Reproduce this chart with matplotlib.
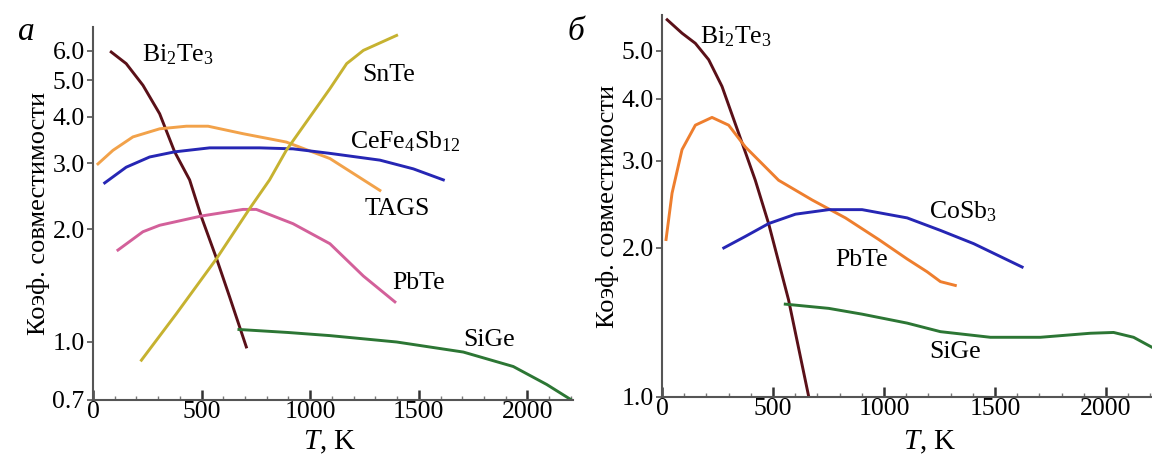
import matplotlib
matplotlib.use('Agg')
import matplotlib.pyplot as plt
from matplotlib.ticker import FixedLocator, FixedFormatter, MultipleLocator, NullLocator

plt.rcParams['font.family'] = ['Liberation Serif', 'DejaVu Serif']
plt.rcParams['mathtext.fontset'] = 'custom'
plt.rcParams['mathtext.rm'] = 'Liberation Serif'
plt.rcParams['mathtext.it'] = 'Liberation Serif:italic'

# ---- panel a data (T in K, compatibility factor) ----
bi_a_T = [84, 153, 230, 307, 376, 445, 499, 569, 629, 706]
bi_a_s = [5.95, 5.54, 4.85, 4.07, 3.22, 2.71, 2.16, 1.67, 1.32, 0.97]

tags_T = [23, 92, 184, 307, 430, 530, 691, 890, 1091, 1321]
tags_s = [2.99, 3.25, 3.53, 3.71, 3.77, 3.77, 3.60, 3.42, 3.09, 2.54]

cefe_T = [54, 153, 261, 376, 537, 767, 921, 1091, 1321, 1475, 1613]
cefe_s = [2.66, 2.93, 3.12, 3.22, 3.30, 3.30, 3.28, 3.19, 3.06, 2.90, 2.71]

pbte_a_T = [115, 230, 307, 499, 691, 752, 921, 1091, 1245, 1390]
pbte_a_s = [1.76, 1.97, 2.05, 2.17, 2.26, 2.26, 2.07, 1.83, 1.50, 1.28]

snte_T = [223, 384, 569, 721, 813, 890, 1000, 1091, 1168, 1245, 1398]
snte_s = [0.894, 1.19, 1.67, 2.27, 2.71, 3.25, 4.0, 4.75, 5.54, 6.01, 6.59]

sige_a_T = [672, 900, 1091, 1398, 1705, 1935, 2089, 2203]
sige_a_s = [1.08, 1.06, 1.04, 1.00, 0.94, 0.86, 0.77, 0.70]

# ---- panel b data ----
bi_b_T = [23, 90, 150, 210, 270, 345, 420, 480, 570, 661]
bi_b_s = [5.78, 5.43, 5.18, 4.80, 4.24, 3.41, 2.74, 2.24, 1.57, 1.0]

pbte_b_T = [18, 45, 90, 150, 225, 300, 375, 525, 676, 826, 976, 1104, 1194, 1254, 1321]
pbte_b_s = [2.08, 2.58, 3.16, 3.54, 3.67, 3.54, 3.20, 2.74, 2.50, 2.30, 2.08, 1.90, 1.79, 1.71, 1.68]

cosb_T = [278, 375, 480, 601, 751, 901, 1104, 1254, 1404, 1622]
cosb_s = [2.0, 2.11, 2.24, 2.34, 2.39, 2.39, 2.30, 2.17, 2.04, 1.83]

sige_b_T = [555, 751, 901, 1104, 1254, 1479, 1704, 1929, 2034, 2124, 2207]
sige_b_s = [1.54, 1.51, 1.47, 1.41, 1.355, 1.32, 1.32, 1.345, 1.35, 1.32, 1.26]

yticks_a = [0.7, 1.0, 2.0, 3.0, 4.0, 5.0, 6.0]
yticks_b = [1.0, 2.0, 3.0, 4.0, 5.0]
xticks = [0, 500, 1000, 1500, 2000]

c_bi = '#5a1018'
c_tags = '#f2a24a'
c_blue = '#2626b4'
c_pink = '#d3609a'
c_snte = '#c6b230'
c_green = '#2c7634'
c_orange = '#ee7e2e'
lw = 2.1

fig = plt.figure(figsize=(11.52, 4.55), dpi=100)
ax1 = fig.add_axes([0.0807, 0.1209, 0.4167, 0.8198])
ax2 = fig.add_axes([0.5747, 0.1275, 0.4253, 0.8396])

ax1.plot(bi_a_T, bi_a_s, color=c_bi, lw=lw)
ax1.plot(tags_T, tags_s, color=c_tags, lw=lw)
ax1.plot(cefe_T, cefe_s, color=c_blue, lw=lw)
ax1.plot(pbte_a_T, pbte_a_s, color=c_pink, lw=lw)
ax1.plot(snte_T, snte_s, color=c_snte, lw=lw)
ax1.plot(sige_a_T, sige_a_s, color=c_green, lw=lw)

ax2.plot(bi_b_T, bi_b_s, color=c_bi, lw=lw)
ax2.plot(pbte_b_T, pbte_b_s, color=c_orange, lw=lw)
ax2.plot(cosb_T, cosb_s, color=c_blue, lw=lw)
ax2.plot(sige_b_T, sige_b_s, color=c_green, lw=lw)

for ax, yt, ylim in [(ax1, yticks_a, (0.7, 6.94)), (ax2, yticks_b, (1.0, 5.91))]:
    ax.set_yscale('log')
    ax.set_ylim(*ylim)
    ax.set_xlim(0, 2210)
    ax.yaxis.set_major_locator(FixedLocator(yt))
    ax.yaxis.set_major_formatter(FixedFormatter(['%.1f' % v for v in yt]))
    ax.yaxis.set_minor_locator(NullLocator())
    ax.xaxis.set_major_locator(FixedLocator(xticks))
    ax.xaxis.set_minor_locator(MultipleLocator(100))
    for s in ['top', 'right']:
        ax.spines[s].set_visible(False)
    for s in ['left', 'bottom']:
        ax.spines[s].set_color('#555555')
        ax.spines[s].set_linewidth(1.5)
    ax.tick_params(axis='x', which='major', direction='in', length=7, width=1.8,
                   labelsize=18.5, pad=1, color='#333333')
    ax.tick_params(axis='x', which='minor', direction='in', length=3, width=1,
                   color='#777777')
    ax.tick_params(axis='y', which='major', direction='out', length=4, width=1.2,
                   labelsize=18.5, pad=2, color='#555555')
    ax.set_ylabel('Коэф. совместимости', fontsize=19, labelpad=2)
    ax.set_xlabel('$T$, K', fontsize=21)

ax2.set_xlim(0, 2207)
ax1.xaxis.set_label_coords(0.494, -0.078)
ax2.xaxis.set_label_coords(0.547, -0.084)

# panel labels
fig.text(18 / 1152, 1 - 32 / 455, 'а', fontsize=24, style='italic', va='center')
fig.text(568 / 1152, 1 - 32 / 455, 'б', fontsize=24, style='italic', va='center')

lab = dict(fontsize=18.5, va='center', ha='left')
ax1.text(226, 5.84, 'Bi$_2$Te$_3$', **lab)
ax1.text(1238, 5.17, 'SnTe', **lab)
ax1.text(1183, 3.42, 'CeFe$_4$Sb$_{12}$', **lab)
ax1.text(1252, 2.26, 'TAGS', **lab)
ax1.text(1377, 1.44, 'PbTe', **lab)
ax1.text(1704, 1.01, 'SiGe', **lab)

ax2.text(171, 5.34, 'Bi$_2$Te$_3$', **lab)
ax2.text(1203, 2.37, 'CoSb$_3$', **lab)
ax2.text(779, 1.89, 'PbTe', **lab)
ax2.text(1203, 1.23, 'SiGe', **lab)

fig.savefig('out.png', dpi=100)
